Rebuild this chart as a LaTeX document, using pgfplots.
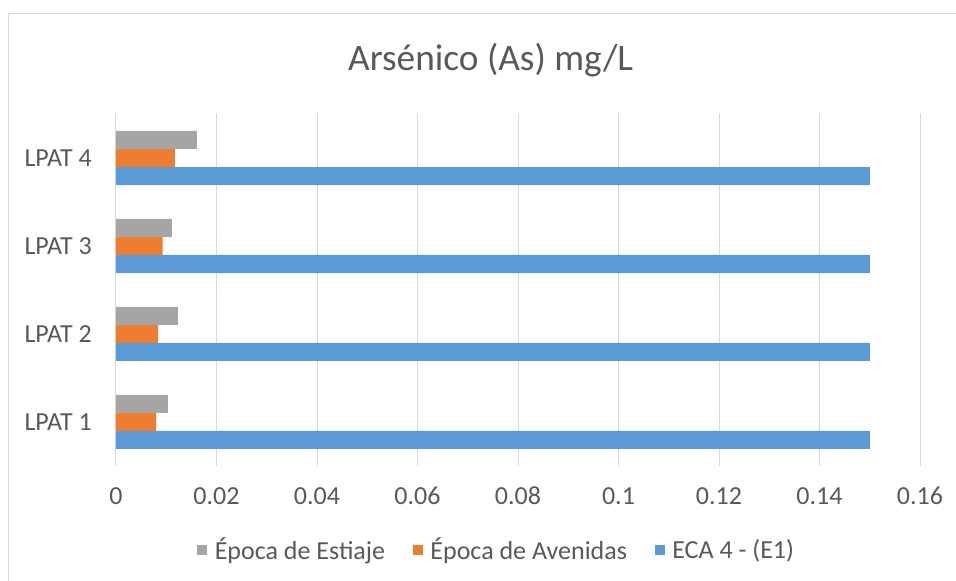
\documentclass[border=0pt]{standalone}
\usepackage{pgfplots}
\pgfplotsset{compat=1.18}
\usepackage{fontspec}
\setmainfont{Carlito}
\definecolor{cgray}{HTML}{A5A5A5}
\definecolor{corange}{HTML}{ED7D31}
\definecolor{cblue}{HTML}{5B9BD5}
\definecolor{ctext}{HTML}{595959}
\definecolor{cgrid}{HTML}{D9D9D9}
\begin{document}
\begin{tikzpicture}
\path[use as bounding box] (-87pt,-86.25pt) rectangle (630pt,349.5pt);
\draw[cgrid, line width=0.75pt] (-80.25pt,-95pt) -- (-80.25pt,339pt) -- (640pt,339pt);
\begin{axis}[
  at={(0,0)}, anchor=south west,
  scale only axis, width=603pt, height=264pt,
  xbar=0pt, bar width=13.5pt,
  xmin=0, xmax=0.16, ymin=0.5, ymax=4.5,
  xtick={0,0.02,0.04,0.06,0.08,0.1,0.12,0.14,0.16},
  xticklabels={0,0.02,0.04,0.06,0.08,0.1,0.12,0.14,0.16},
  ytick={1,2,3,4},
  yticklabels={LPAT 1,LPAT 2,LPAT 3,LPAT 4},
  xmajorgrids, major grid style={cgrid, line width=0.75pt},
  axis lines*=left,
  x axis line style={draw=none},
  y axis line style={draw=cgrid, line width=0.75pt},
  major tick length=0pt,
  tick style={draw=none},
  tick label style={font=\fontsize{19.5}{20}\selectfont, text=ctext, inner sep=0pt},
  xticklabel style={anchor=base, yshift=-29.25pt},
  yticklabel style={anchor=east, xshift=-18pt},
  title={Arsénico (As) mg/L},
  title style={at={(0.466,1)}, anchor=center, yshift=34.5pt, font=\fontsize{28}{30}\selectfont, text=ctext},
  legend style={at={(0.474,-0.2386)}, anchor=center, draw=none, fill=none,
    font=\fontsize{19.5}{20}\selectfont, text=ctext,
    /tikz/every even column/.append style={column sep=19pt}},
  legend columns=3,
  reverse legend,
  legend image code/.code={\fill[#1,draw=none] (0pt,-3.75pt) rectangle (7.5pt,3.75pt); \path (11pt,0pt);},
]
\addplot[fill=cblue, draw=none] coordinates {(0.15,1) (0.15,2) (0.15,3) (0.15,4)};
\addplot[fill=corange, draw=none] coordinates {(0.0080,1) (0.0084,2) (0.0093,3) (0.0117,4)};
\addplot[fill=cgray, draw=none] coordinates {(0.0103,1) (0.0123,2) (0.0111,3) (0.0161,4)};
\legend{ECA 4 - (E1),Época de Avenidas,Época de Estiaje}
\end{axis}
\end{tikzpicture}
\end{document}
